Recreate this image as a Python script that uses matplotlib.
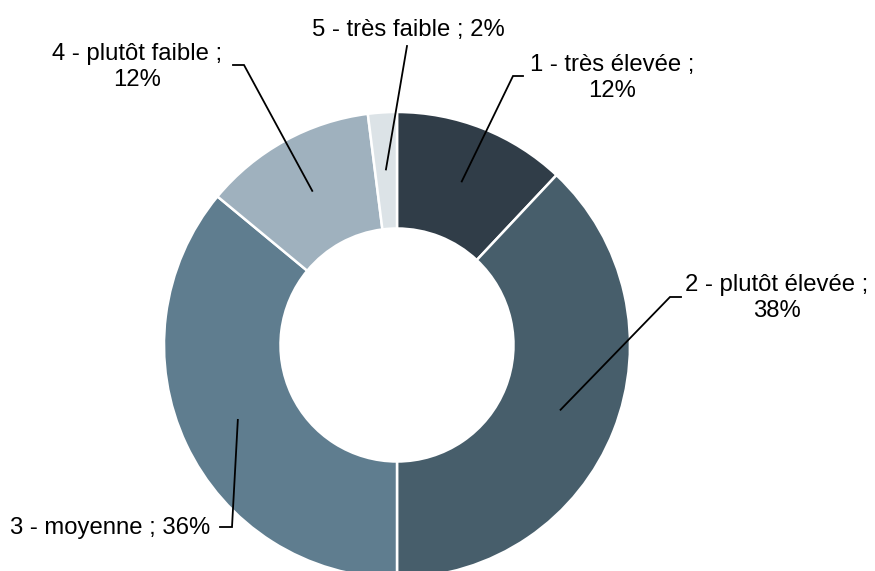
import numpy as np
import matplotlib.pyplot as plt

# Data
labels = ['1 - très élevée ;\n12%', '2 - plutôt élevée ;\n38%', '3 - moyenne ; 36%',
          '4 - plutôt faible ;\n12%', '5 - très faible ; 2%']
values = [12, 38, 36, 12, 2]
colors = ['#303d48', '#475e6b', '#5f7d8f', '#9fb1be', '#dce3e7']

plt.rcParams['font.family'] = ['Liberation Sans', 'DejaVu Sans']

W, H = 875, 571
cx, cy = 397, 345   # donut centre in pixels
R = 233             # outer radius in pixels

fig = plt.figure(figsize=(W / 100, H / 100), dpi=100)
ax = fig.add_axes([0, 0, 1, 1])

wedges, _ = ax.pie(values, colors=colors, startangle=90, counterclock=False,
                   radius=R, wedgeprops=dict(width=0.5 * R, edgecolor='white', linewidth=1.8))

ax.set_xlim(-cx, W - cx)
ax.set_ylim(-(H - cy), cy)
ax.set_aspect('equal')
ax.axis('off')

# label layout: elbow point, end point of the short tick, text position, alignment (in pixels)
layout = [
    ((513, 76), (523, 76), (612, 78), 'center'),
    ((670, 297), (681, 297), (777, 298), 'center'),
    ((232, 527), (220, 527), (210, 528), 'right'),
    ((244, 65), (233, 65), (137, 67), 'center'),
    ((407, 46), (407, 46), (408, 30), 'center'),
]

def to_data(p):
    return p[0] - cx, cy - p[1]

for w, lab, (elbow, end, txt, ha) in zip(wedges, labels, layout):
    ang = np.deg2rad((w.theta1 + w.theta2) / 2)
    r = 0.755 * R
    start = (r * np.cos(ang), r * np.sin(ang))
    e = to_data(elbow)
    t = to_data(end)
    ax.plot([start[0], e[0], t[0]], [start[1], e[1], t[1]], color='black', lw=1.3,
            solid_joinstyle='miter')
    tx, ty = to_data(txt)
    ax.text(tx, ty, lab, ha=ha, va='center', multialignment='center', fontsize=17.2,
            linespacing=1.25, color='black')

plt.savefig('out.png', dpi=100)
